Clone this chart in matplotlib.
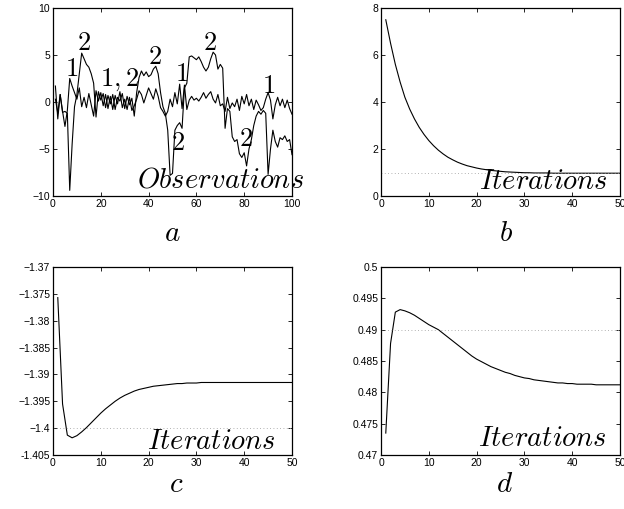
import matplotlib
matplotlib.use('Agg')
import matplotlib.pyplot as plt
import numpy as np

plt.rcParams['font.family'] = 'Liberation Sans'
plt.rcParams['mathtext.fontset'] = 'cm'

# ---- panel a: two observation series (x = 1..100)
obs_x = np.arange(1, 101)
obs_small = [0.3, -1.2, 0.8, -1.0, -2.6, -0.9, 2.5, 1.7, 1.0, 0.3,
             1.5, -0.5, 0.5, -0.6, 0.9, -0.3, -1.5, 1.2, 0.1, 1.0,
             -0.4, 0.8, -0.7, 0.6, -0.8, 0.7, -0.2, 1.1, -0.6, 0.3,
             -0.8, 0.5, -0.9, -0.4, 0.3, 1.2, 0.8, -0.1, 0.7, 1.5,
             0.9, 0.3, 1.4, 0.6, -0.6, -1.0, -1.5, -1.0, 0.3, -0.5,
             1.0, -0.2, 1.9, -0.7, 1.8, -0.8, 0.2, 0.6, 0.2, 0.4,
             0.1, 0.5, 1.0, 0.4, 0.8, 1.1, 0.3, -0.1, 0.8, -0.4,
             -0.2, -1.0, 0.5, -0.7, -0.1, -0.5, 0.3, -0.9, 0.6, -0.2,
             0.8, -0.4, 0.3, -0.8, 0.2, -0.3, -0.9, -0.6, 0.3, 1.0,
             0.2, -1.8, -0.3, 0.5, -0.4, 0.3, -0.6, 0.2, -0.7, -1.3]
obs_large = [1.7, -1.8, 0.8, -1.1, -1.0, -1.2, -9.4, -4.5, -0.5, 0.8,
             3.0, 5.2, 4.6, 4.0, 3.7, 3.0, 2.0, -1.6, 1.1, 0.2,
             0.9, -0.6, 0.7, -0.2, 0.8, -0.8, 0.5, 0.1, 0.9, -0.7,
             0.6, -0.3, 0.4, -1.5, 1.0, 2.6, 3.3, 2.8, 3.2, 2.7,
             2.9, 3.5, 3.8, 3.0, 1.0, -0.5, -1.2, -3.0, -7.8, -7.6,
             -3.0, -2.5, -2.2, -2.8, 1.5, 2.0, 4.8, 4.9, 4.7, 4.5,
             4.8, 4.3, 3.7, 3.3, 3.7, 4.6, 5.3, 5.0, 3.5, 4.0,
             3.6, -2.8, -0.7, -1.0, -3.7, -4.2, -4.0, -5.5, -5.9, -5.4,
             -6.8, -5.0, -4.0, -2.5, -1.5, -1.0, -1.3, -0.9, -1.2, -7.7,
             -5.0, -3.0, -4.2, -4.8, -3.8, -4.0, -3.6, -4.2, -4.0, -5.6]
regime_labels = ['1', '2', '1,2', '2', '1', '2', '2', '2', '1']
regime_x = [7.8, 12.9, 28.0, 42.6, 53.8, 52.4, 65.6, 80.9, 90.0]
regime_y = [3.5, 6.3, 2.4, 4.8, 3.0, -4.4, 6.3, -3.9, 1.7]

# ---- panels b, c, d: iteration curves (x = 1..50)
iter_x = np.arange(1, 51)
curve_b = [7.5, 6.5, 5.6, 4.85, 4.2, 3.7, 3.28, 2.92, 2.62, 2.36,
           2.14, 1.95, 1.79, 1.65, 1.54, 1.44, 1.36, 1.29, 1.24, 1.19,
           1.15, 1.12, 1.09, 1.07, 1.05, 1.03, 1.02, 1.01, 1.0, 0.99,
           0.99, 0.98, 0.98, 0.98, 0.98, 0.97, 0.97, 0.97, 0.97, 0.97,
           0.97, 0.97, 0.97, 0.97, 0.97, 0.97, 0.97, 0.97, 0.97, 0.97]
curve_c = [-1.3757, -1.3955, -1.4013, -1.4018, -1.4014, -1.4007, -1.3999, -1.3990, -1.3981, -1.3972,
           -1.3964, -1.3957, -1.3950, -1.3944, -1.3939, -1.3935, -1.3931, -1.3928, -1.3926, -1.3924,
           -1.3922, -1.3921, -1.3920, -1.3919, -1.3918, -1.3917, -1.3917, -1.3916, -1.3916, -1.3916,
           -1.3915, -1.3915, -1.3915, -1.3915, -1.3915, -1.3915, -1.3915, -1.3915, -1.3915, -1.3915,
           -1.3915, -1.3915, -1.3915, -1.3915, -1.3915, -1.3915, -1.3915, -1.3915, -1.3915, -1.3915]
curve_d = [0.4735, 0.4878, 0.4928, 0.4932, 0.4930, 0.4927, 0.4923, 0.4918, 0.4913, 0.4908,
           0.4904, 0.4900, 0.4894, 0.4888, 0.4882, 0.4876, 0.4870, 0.4864, 0.4858, 0.4853,
           0.4849, 0.4845, 0.4841, 0.4838, 0.4835, 0.4832, 0.4830, 0.4827, 0.4825, 0.4823,
           0.4822, 0.4820, 0.4819, 0.4818, 0.4817, 0.4816, 0.4815, 0.4815, 0.4814, 0.4814,
           0.4813, 0.4813, 0.4813, 0.4813, 0.4812, 0.4812, 0.4812, 0.4812, 0.4812, 0.4812]
ref_b, ref_c, ref_d = 1.0, -1.4, 0.49

c_ticks = [-1.405, -1.4, -1.395, -1.39, -1.385, -1.38, -1.375, -1.37]
c_ticklabels = ['-1.405', '\u22121.4', '\u22121.395', '\u22121.39', '\u22121.385',
                '\u22121.38', '\u22121.375', '\u22121.37']
d_ticks = [0.47, 0.475, 0.48, 0.485, 0.49, 0.495, 0.5]
d_ticklabels = ['0.47', '0.475', '0.48', '0.485', '0.49', '0.495', '0.5']

fig = plt.figure(figsize=(6.24, 5.09), dpi=100)
W, H = 624.0, 509.0


def make_ax(l, t, r, b):
    ax = fig.add_axes([l / W, 1 - b / H, (r - l) / W, (b - t) / H])
    ax.tick_params(direction='in', top=True, right=True, length=3, width=0.6,
                   labelsize=7.5, pad=2)
    for s in ax.spines.values():
        s.set_linewidth(0.9)
    return ax


lw = 0.8
big = 19
word = 20.5

# a
ax = make_ax(53, 8, 292, 196)
ax.plot(obs_x, obs_small, color='black', lw=lw)
ax.plot(obs_x, obs_large, color='black', lw=lw)
for lab, xx, yy in zip(regime_labels, regime_x, regime_y):
    ax.text(xx, yy, '$' + lab + '$', fontsize=big, ha='center', va='center')
ax.set_xlim(0, 100)
ax.set_ylim(-10, 10)
ax.set_xticks([0, 20, 40, 60, 80, 100])
ax.set_yticks([-10, -5, 0, 5, 10])
ax.text(0.699, 0.085, '$Observations$', transform=ax.transAxes, fontsize=word,
        ha='center', va='center', clip_on=False)

# b
ax = make_ax(381, 8, 620, 196)
ax.plot(iter_x, curve_b, color='black', lw=lw)
ax.axhline(ref_b, color='#999999', lw=0.6, ls=(0, (1, 3)))
ax.set_xlim(0, 50)
ax.set_ylim(0, 8)
ax.set_xticks([0, 10, 20, 30, 40, 50])
ax.set_yticks([0, 2, 4, 6, 8])
ax.text(0.678, 0.074, '$Iterations$', transform=ax.transAxes, fontsize=word,
        ha='center', va='center')

# c
ax = make_ax(53, 267, 292, 455)
ax.plot(iter_x, curve_c, color='black', lw=lw)
ax.axhline(ref_c, color='#999999', lw=0.6, ls=(0, (1, 3)))
ax.set_xlim(0, 50)
ax.set_ylim(-1.405, -1.37)
ax.set_xticks([0, 10, 20, 30, 40, 50])
ax.set_yticks(c_ticks)
ax.set_yticklabels(c_ticklabels)
ax.text(0.661, 0.069, '$Iterations$', transform=ax.transAxes, fontsize=word,
        ha='center', va='center')

# d
ax = make_ax(381, 267, 620, 455)
ax.plot(iter_x, curve_d, color='black', lw=lw)
ax.axhline(ref_d, color='#999999', lw=0.6, ls=(0, (1, 3)))
ax.set_xlim(0, 50)
ax.set_ylim(0.47, 0.5)
ax.set_xticks([0, 10, 20, 30, 40, 50])
ax.set_yticks(d_ticks)
ax.set_yticklabels(d_ticklabels)
ax.text(0.674, 0.085, '$Iterations$', transform=ax.transAxes, fontsize=word,
        ha='center', va='center')

# panel letters
for lab, px, py in [('a', 172, 233), ('b', 506, 233), ('c', 176, 484), ('d', 505, 484)]:
    fig.text(px / W, 1 - py / H, '$' + lab + '$', fontsize=21, ha='center', va='center')

fig.savefig('out.png', dpi=100)
